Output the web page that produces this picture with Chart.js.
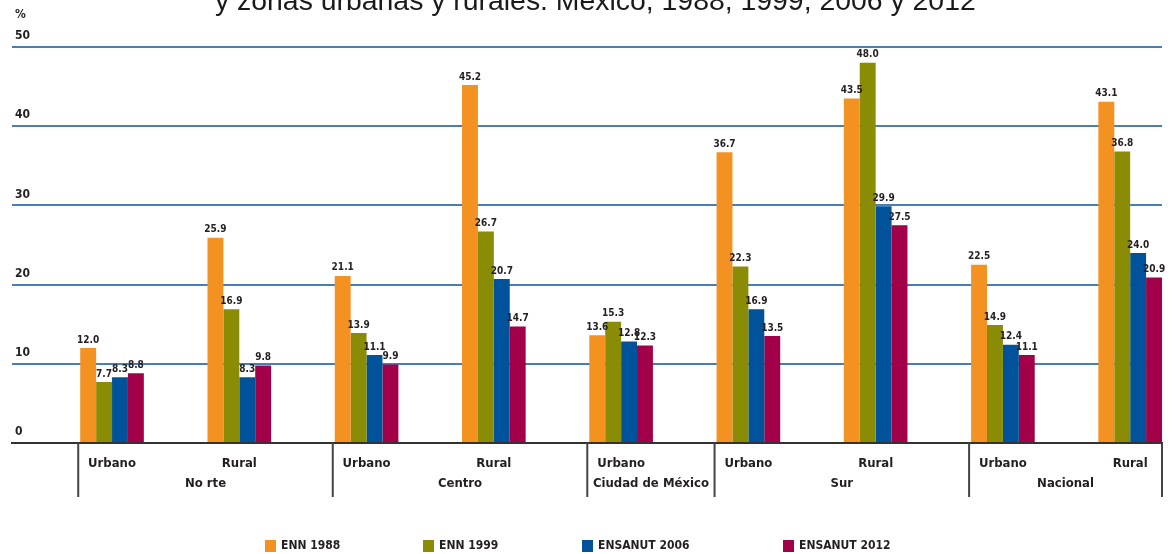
<!DOCTYPE html>
<html>
<head>
<meta charset="utf-8">
<script src="https://cdn.jsdelivr.net/npm/chart.js@4"></script>
<style>
    html, body { margin: 0; padding: 0; background: #fff; overflow: hidden; }
    #wrap { position: relative; width: 1173px; height: 554px; }
    #title {
        position: absolute; left: 215px; top: -14px;
        font: 28.4px "Liberation Sans", Arial, sans-serif; line-height: 28px;
        color: #1a1a1a; white-space: nowrap;
    }
    canvas { position: absolute; left: 0; top: 0; }
</style>
</head>
<body>
<div id="wrap">
    <canvas id="chart" width="1173" height="554"></canvas>
    <div id="title">y zonas urbanas y rurales. México, 1988, 1999, 2006 y 2012</div>
</div>
<script>
const categories = ['Urbano', 'Rural', 'Urbano', 'Rural', 'Urbano', 'Urbano', 'Rural', 'Urbano', 'Rural'];
const regions = ['No rte', 'Centro', 'Ciudad de México', 'Sur', 'Nacional'];
const regionStart = [0, 2, 4, 5, 7];
const seriesNames = ['ENN 1988', 'ENN 1999', 'ENSANUT 2006', 'ENSANUT 2012'];
const enn1988 = [12.0, 25.9, 21.1, 45.2, 13.6, 36.7, 43.5, 22.5, 43.1];
const enn1999 = [7.7, 16.9, 13.9, 26.7, 15.3, 22.3, 48.0, 14.9, 36.8];
const ensanut2006 = [8.3, 8.3, 11.1, 20.7, 12.8, 16.9, 29.9, 12.4, 24.0];
const ensanut2012 = [8.8, 9.8, 9.9, 14.7, 12.3, 13.5, 27.5, 11.1, 20.9];
const yTicks = [0, 10, 20, 30, 40, 50];

const colors = ['#f39221', '#8a8c05', '#00539b', '#a3004a'];
const FONT = '"DejaVu Sans Condensed", "DejaVu Sans", sans-serif';
const WEIGHT = 'bold condensed';
const INK = '#231f20';
const legendStart = [265, 423, 582, 783];

const toPoints = arr => arr.map((v, i) => ({ x: i, y: v }));

// value labels, group separators, region names, "%" and the legend
const extras = {
    id: 'extras',
    afterDatasetsDraw(chart) {
        const ctx = chart.ctx;
        const x = chart.scales.x;
        const y = chart.scales.y;
        const area = chart.chartArea;
        ctx.save();

        // values over the bars
        ctx.fillStyle = INK;
        ctx.font = WEIGHT + ' 10px ' + FONT;
        ctx.textAlign = 'center';
        ctx.textBaseline = 'bottom';
        chart.data.datasets.forEach((ds, d) => {
            chart.getDatasetMeta(d).data.forEach((bar, i) => {
                ctx.fillText(ds.data[i].y.toFixed(1), bar.x, bar.y - 3);
            });
        });

        // separators under the axis
        const seps = regionStart.map(s => x.getPixelForValue(s - 0.25) - 2);
        seps.push(area.right);
        ctx.strokeStyle = '#444';
        ctx.lineWidth = 2;
        seps.forEach(px => {
            ctx.beginPath();
            ctx.moveTo(px, area.bottom);
            ctx.lineTo(px, area.bottom + 54);
            ctx.stroke();
        });

        // region names
        ctx.font = WEIGHT + ' 13px ' + FONT;
        ctx.textBaseline = 'middle';
        regions.forEach((r, i) => {
            ctx.fillText(r, (seps[i] + seps[i + 1]) / 2, area.bottom + 41);
        });

        // % unit
        ctx.font = WEIGHT + ' 12px ' + FONT;
        ctx.textAlign = 'left';
        ctx.fillText('%', 15, y.top - 32);

        // legend
        const ly = 546;
        seriesNames.forEach((name, i) => {
            const lx = legendStart[i];
            ctx.fillStyle = colors[i];
            ctx.fillRect(lx, ly - 6, 11, 12);
            ctx.fillStyle = INK;
            ctx.fillText(name, lx + 16, ly);
        });
        ctx.restore();
    }
};

new Chart(document.getElementById('chart'), {
    type: 'bar',
    data: {
        datasets: seriesNames.map((name, i) => ({
            label: name,
            data: toPoints([enn1988, enn1999, ensanut2006, ensanut2012][i]),
            backgroundColor: colors[i],
            borderWidth: 0,
            categoryPercentage: 0.5,
            barPercentage: 1.0
        }))
    },
    options: {
        responsive: false,
        animation: false,
        layout: { padding: { top: 47, right: 11, bottom: 0, left: 0 } },
        plugins: {
            legend: { display: false },
            tooltip: { enabled: false }
        },
        scales: {
            x: {
                type: 'linear',
                offset: false,
                min: -0.786,
                max: 8.25,
                bounds: 'data',
                afterBuildTicks: scale => {
                    scale.ticks = categories.map((_, i) => ({ value: i }));
                },
                afterFit: scale => { scale.height = 111; },
                grid: { display: false },
                border: { display: true, color: '#333', width: 2 },
                ticks: {
                    autoSkip: false,
                    maxRotation: 0,
                    padding: 5,
                    color: INK,
                    font: { family: FONT, size: 13, weight: WEIGHT },
                    callback: v => categories[v]
                }
            },
            y: {
                min: 0,
                max: 50,
                afterBuildTicks: scale => {
                    scale.ticks = yTicks.map(v => ({ value: v }));
                },
                afterFit: scale => { scale.width = 12; },
                grid: {
                    drawTicks: false,
                    lineWidth: 2,
                    color: c => c.tick.value === 0 ? '#333' : '#4a7eb1'
                },
                border: { display: false },
                ticks: {
                    mirror: true,
                    padding: 3,
                    labelOffset: -11,
                    color: INK,
                    font: { family: FONT, size: 12, weight: WEIGHT }
                }
            }
        }
    },
    plugins: [extras]
});
</script>
</body>
</html>
